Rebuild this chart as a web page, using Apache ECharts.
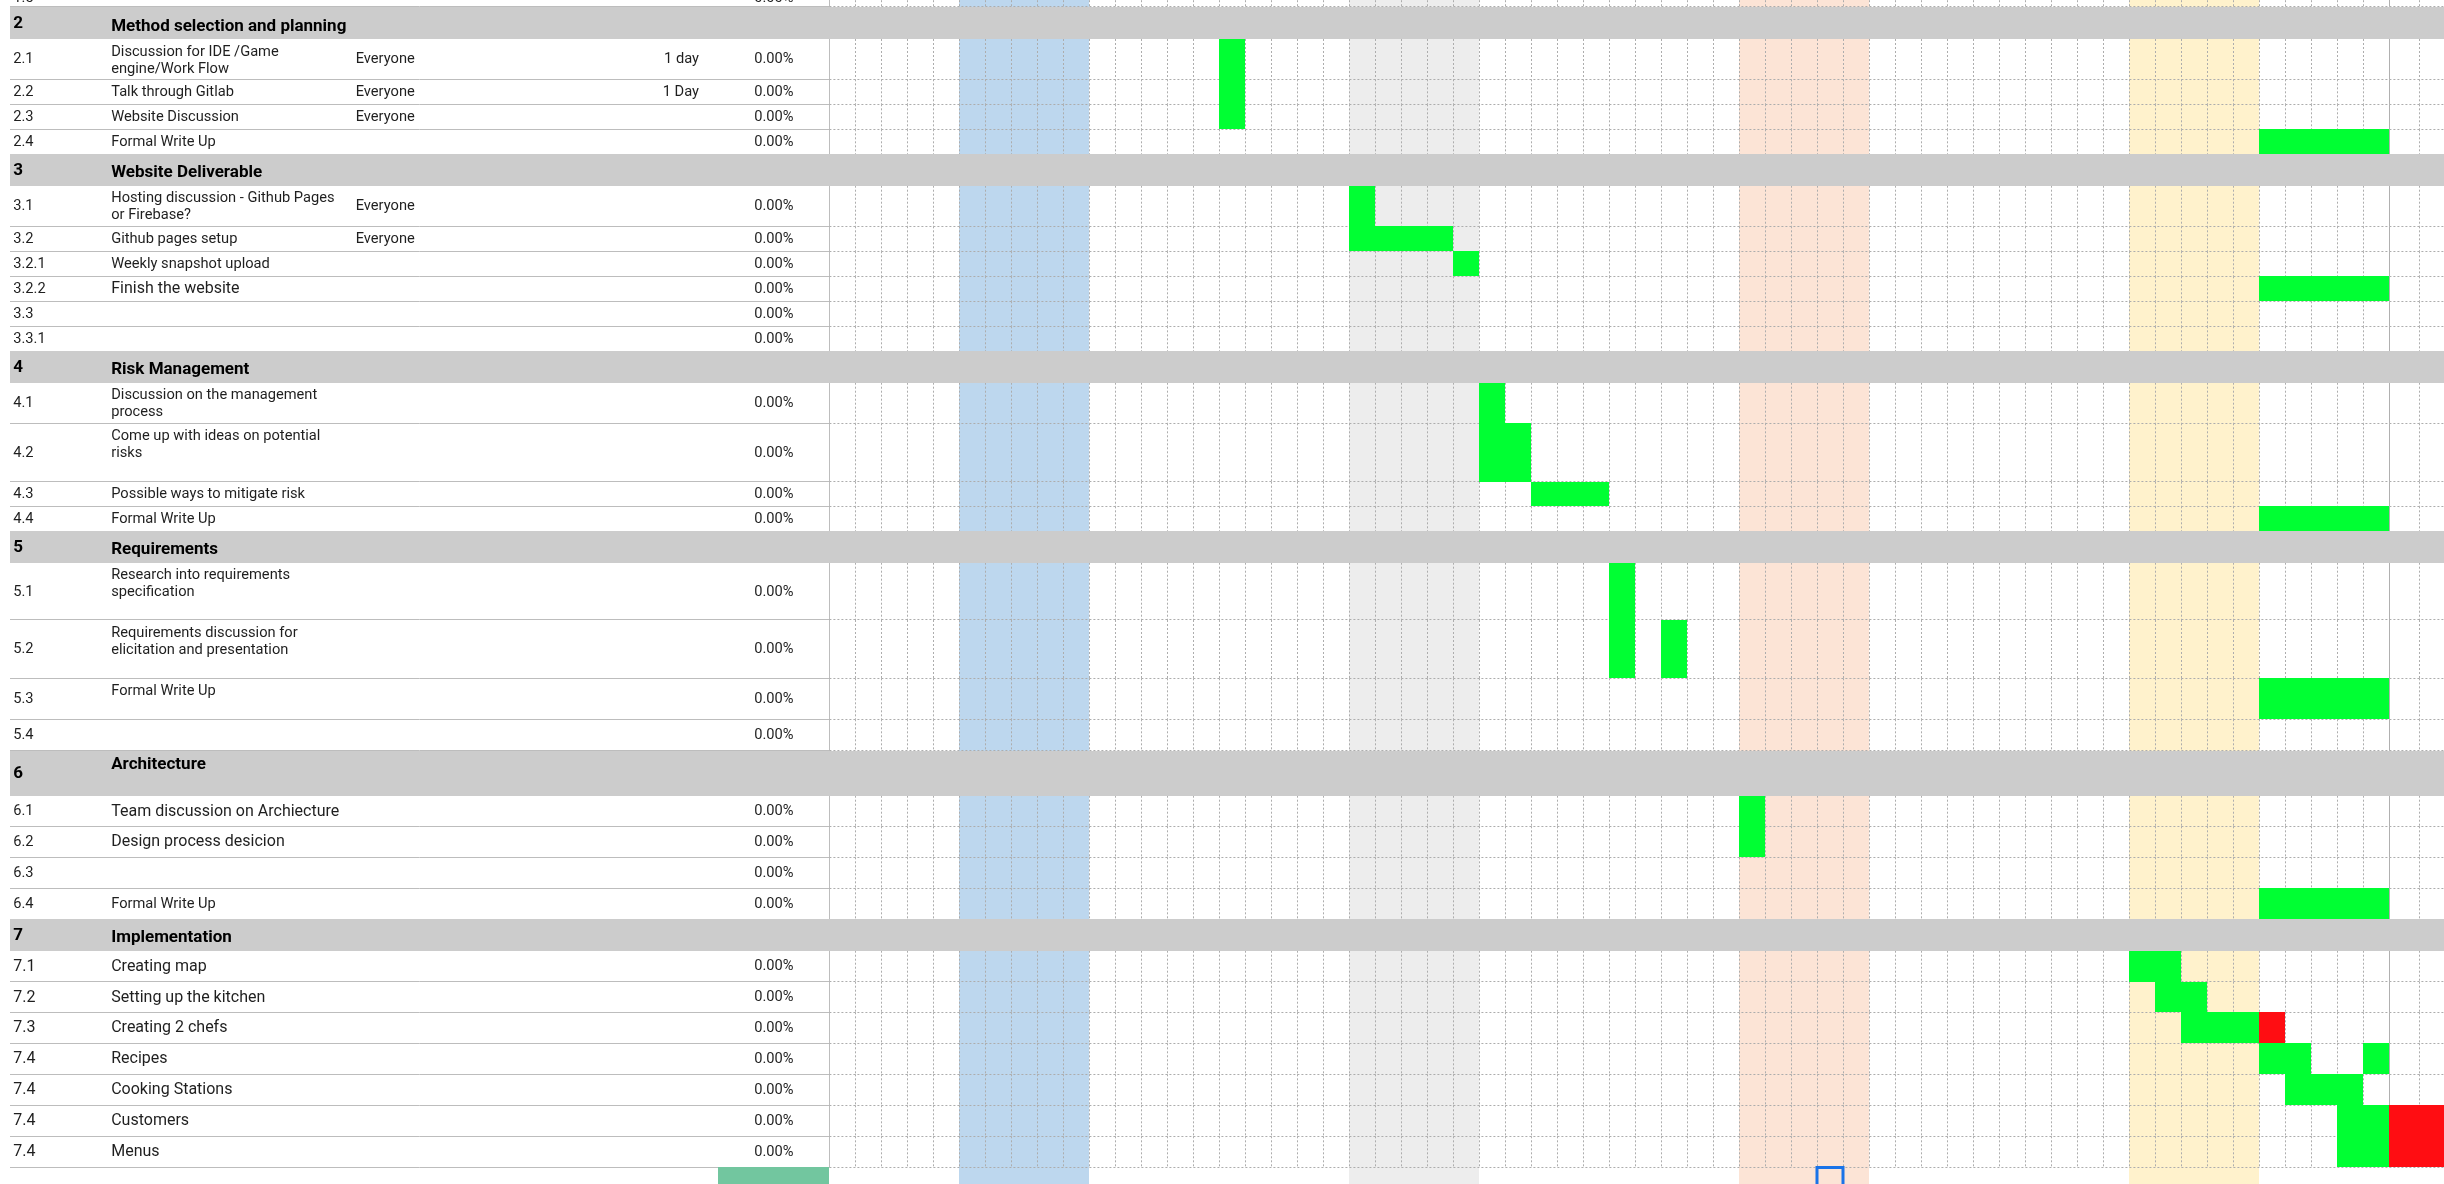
<!DOCTYPE html>
<html>
<head>
<meta charset="utf-8">
<script src="https://cdn.jsdelivr.net/npm/echarts@6/dist/echarts.min.js"></script>
<style>
html,body{margin:0;padding:0;background:#fff;overflow:hidden;}
#c{width:2444px;height:1184px;}
</style>
</head>
<body>
<div id="c"></div>
<script>
// ---------------- DATA ----------------
const taskIds = ['1.5','2','2.1','2.2','2.3','2.4','3','3.1','3.2','3.2.1','3.2.2','3.3','3.3.1',
  '4','4.1','4.2','4.3','4.4','5','5.1','5.2','5.3','5.4','6','6.1','6.2','6.3','6.4',
  '7','7.1','7.2','7.3','7.4','7.4','7.4','7.4',''];
const taskNames = ['', 'Method selection and planning', 'Discussion for IDE /Game\nengine/Work Flow',
  'Talk through Gitlab', 'Website Discussion', 'Formal Write Up', 'Website Deliverable',
  'Hosting discussion - Github Pages\nor Firebase?', 'Github pages setup', 'Weekly snapshot upload',
  'Finish the website', '', '', 'Risk Management', 'Discussion on the management\nprocess',
  'Come up with ideas on potential\nrisks', 'Possible ways to mitigate risk', 'Formal Write Up',
  'Requirements', 'Research into requirements\nspecification',
  'Requirements discussion for\nelicitation and presentation', 'Formal Write Up', '',
  'Architecture', 'Team discussion on Archiecture', 'Design process desicion', '', 'Formal Write Up',
  'Implementation', 'Creating map', 'Setting up the kitchen', 'Creating 2 chefs', 'Recipes',
  'Cooking Stations', 'Customers', 'Menus', ''];
const owners = ['', '', 'Everyone', 'Everyone', 'Everyone', '', '', 'Everyone', 'Everyone', '', '', '', '',
  '', '', '', '', '', '', '', '', '', '', '', '', '', '', '', '', '', '', '', '', '', '', '', ''];
const durations = ['', '', '1 day', '1 Day', '', '', '', '', '', '', '', '', '',
  '', '', '', '', '', '', '', '', '', '', '', '', '', '', '', '', '', '', '', '', '', '', '', ''];
const progress = ['0.00%', '', '0.00%', '0.00%', '0.00%', '0.00%', '', '0.00%', '0.00%', '0.00%', '0.00%', '0.00%', '0.00%',
  '', '0.00%', '0.00%', '0.00%', '0.00%', '', '0.00%', '0.00%', '0.00%', '0.00%', '', '0.00%', '0.00%', '0.00%', '0.00%',
  '', '0.00%', '0.00%', '0.00%', '0.00%', '0.00%', '0.00%', '0.00%', ''];
const rowKinds = ['task','header','task','task','task','task','header','task','task','task','task','task','task',
  'header','task','task','task','task','header','task','task','task','task','header','task','task','task','task',
  'header','task','task','task','task','task','task','task','extra'];
// scheduled cells: [rowIndex, startDay, days]
const doneCells = [[2,15,1],[3,15,1],[4,15,1],[5,55,5],
  [7,20,1],[8,20,4],[9,24,1],[10,55,5],
  [14,25,1],[15,25,2],[16,27,3],[17,55,5],
  [19,30,1],[20,30,1],[20,32,1],[21,55,5],
  [24,35,1],[25,35,1],[27,55,5],
  [29,50,2],[30,51,2],[31,52,3],[32,55,2],[32,59,1],[33,56,3],[34,58,2],[35,58,2]];
const lateCells = [[31,55,1],[34,60,3],[35,60,3]];
// highlighted weeks: start day, length
const bandStarts = [5, 20, 35, 50];
const bandLens = [5, 5, 5, 5];
const selectedCell = [36, 38]; // row, day of the active cell

// ---------------- LAYOUT / STYLE ----------------
const W = 2444, H = 1184;
const TABLE_W = 829.4, TABLE_LEFT = 10, DAY_W = 26, MAIN_DAYS = 60, WIDE_DAY_W = 30;
const G2_LEFT = TABLE_W + MAIN_DAYS * DAY_W;
const G2_MAX = MAIN_DAYS + (W - G2_LEFT) / WIDE_DAY_W;
const FIRST_ROW_TOP = -11.8;
const rowHeights = [18.5, 32.3, 40.3, 25, 25, 25, 31.4, 40.6, 25, 25, 25, 25, 25, 31.4, 40.6, 58.4, 24.6, 25,
  31.4, 57.3, 58.3, 41, 31.4, 45, 30.6, 31, 31, 31, 31.4, 31, 30.6, 31, 31, 31, 31, 31, 30];
const bandColors = ['#bdd7ee', '#ededed', '#fce4d6', '#fff2cc'];
const bigNameRows = [10, 24, 25, 29, 30, 31, 32, 33, 34, 35];
const bigIdRows = [29, 30, 31, 32, 33, 34, 35];
const topAlignedHeaders = [23];
const ID_X = 13.2, NAME_X = 111.2, OWNER_X = 355.7, DUR_RIGHT = 699, PCT_RIGHT = 793.5, FILL_CELL_X = 718.3;
const FAMILY = 'Roboto, "Liberation Sans", Arial, sans-serif';
const BASE_FONT = '14.67px ' + FAMILY;
const BIG_FONT = '16px ' + FAMILY;
const HEADER_FONT = 'bold 17px ' + FAMILY;
const LINE_H = 17;
const TEXT = '#1f1f1f';
const HEADER_FILL = '#cccccc';
const TABLE_LINE = '#bdbdbd';
const DOT_LINE = '#adadad';
const SOLID_LINE = '#b0b0b0';
const DONE = '#00ff33';
const LATE = '#ff0d12';
const FILLED_CELL = '#72c69f';
const SELECT = '#1a73e8';

const rowTops = [];
(function () { let acc = FIRST_ROW_TOP; rowHeights.forEach(function (h) { rowTops.push(acc); acc += h; }); })();

const crisp = v => Math.round(v - 0.5) + 0.5;
function hLine(x1, x2, y, stroke, dash) {
  const yy = crisp(y);
  return { type: 'line', shape: { x1: x1, y1: yy, x2: x2, y2: yy }, style: { stroke: stroke, lineWidth: 1, lineDash: dash || null } };
}
function vLine(x, y1, y2, stroke, dash) {
  const xx = crisp(x);
  return { type: 'line', shape: { x1: xx, y1: y1, x2: xx, y2: y2 }, style: { stroke: stroke, lineWidth: 1, lineDash: dash || null } };
}
function box(x1, y1, x2, y2, fill) {
  const a = Math.round(x1), b = Math.round(y1);
  return { type: 'rect', shape: { x: a, y: b, width: Math.round(x2) - a, height: Math.round(y2) - b }, style: { fill: fill } };
}
function txt(s, x, y, font, fill, align) {
  return { type: 'text', style: { text: s, x: x, y: y, font: font, fill: fill, align: align, verticalAlign: 'middle', lineHeight: LINE_H } };
}

const rowData = taskIds.map((_, i) => [i, 0]);

function renderTable(params, api) {
  const i = params.dataIndex, top = rowTops[i], h = rowHeights[i], bot = top + h;
  const X = v => api.coord([v, 0])[0];
  const Y = v => api.coord([0, v])[1];
  const kids = [];
  const kind = rowKinds[i];
  if (kind === 'header') {
    kids.push(box(X(TABLE_LEFT), Y(top), X(TABLE_W), Y(bot), HEADER_FILL));
    kids.push(txt(taskIds[i], X(ID_X), Y(top + h / 2 + 0.5), HEADER_FONT, '#000', 'left'));
    const ny = topAlignedHeaders.indexOf(i) >= 0 ? top + 13.6 : bot - 12.5;
    kids.push(txt(taskNames[i], X(NAME_X), Y(ny), HEADER_FONT, '#000', 'left'));
  } else if (kind === 'task') {
    kids.push(hLine(X(TABLE_LEFT), X(TABLE_W), Y(bot), TABLE_LINE));
    kids.push(vLine(X(TABLE_W), Y(top), Y(bot), TABLE_LINE));
    const mid = top + h / 2 + 0.5;
    const idFont = bigIdRows.indexOf(i) >= 0 ? BIG_FONT : BASE_FONT;
    kids.push(txt(taskIds[i], X(ID_X), Y(mid), idFont, TEXT, 'left'));
    if (taskNames[i]) {
      const nFont = bigNameRows.indexOf(i) >= 0 ? BIG_FONT : BASE_FONT;
      const n = taskNames[i].split('\n').length;
      const ny = h > 35 ? top + 12.9 + (n - 1) * LINE_H / 2 : mid;
      kids.push(txt(taskNames[i], X(NAME_X), Y(ny), nFont, TEXT, 'left'));
    }
    if (owners[i]) kids.push(txt(owners[i], X(OWNER_X), Y(mid), BASE_FONT, TEXT, 'left'));
    if (durations[i]) kids.push(txt(durations[i], X(DUR_RIGHT), Y(mid), BASE_FONT, TEXT, 'right'));
    if (progress[i]) kids.push(txt(progress[i], X(PCT_RIGHT), Y(mid), BASE_FONT, TEXT, 'right'));
  } else {
    kids.push(box(X(FILL_CELL_X), Y(top), X(TABLE_W), Y(bot), FILLED_CELL));
  }
  return { type: 'group', children: kids };
}

function ganttSeries(g, xmin, xmax) {
  const out = [];
  const base = { type: 'custom', xAxisIndex: g, yAxisIndex: g, silent: true, animation: false, clip: false };
  // week bands
  out.push(Object.assign({}, base, {
    z: 1, data: bandStarts.map((s, k) => [s, k]),
    renderItem: function (p, api) {
      const k = p.dataIndex;
      const a = Math.max(bandStarts[k], xmin), b = Math.min(bandStarts[k] + bandLens[k], xmax);
      if (a >= b) return { type: 'group', children: [] };
      const p0 = api.coord([a, -30]), p1 = api.coord([b, H + 30]);
      return box(p0[0], p0[1], p1[0], p1[1], bandColors[k]);
    }
  }));
  // grid lines
  out.push(Object.assign({}, base, {
    z: 2, data: rowData,
    renderItem: function (p, api) {
      const i = p.dataIndex;
      if (rowKinds[i] !== 'task') return { type: 'group', children: [] };
      const top = rowTops[i], bot = top + rowHeights[i];
      const y0 = api.coord([xmin, top])[1], y1 = api.coord([xmin, bot])[1];
      const kids = [];
      for (let c = Math.ceil(xmin); c < xmax; c++) {
        if (c === 0) continue;
        const x = api.coord([c, top])[0];
        if (c === MAIN_DAYS) kids.push(vLine(x, y0, y1, SOLID_LINE));
        else kids.push(vLine(x, y0, y1, DOT_LINE, [2, 2]));
      }
      kids.push(hLine(api.coord([xmin, bot])[0], api.coord([xmax, bot])[0], y1, DOT_LINE, [2, 2]));
      return { type: 'group', children: kids };
    }
  }));
  // section header bars
  out.push(Object.assign({}, base, {
    z: 3, data: rowData,
    renderItem: function (p, api) {
      const i = p.dataIndex;
      if (rowKinds[i] !== 'header') return { type: 'group', children: [] };
      const p0 = api.coord([xmin, rowTops[i]]), p1 = api.coord([xmax, rowTops[i] + rowHeights[i]]);
      return box(p0[0], p0[1], p1[0], p1[1], HEADER_FILL);
    }
  }));
  // scheduled cells
  const cells = doneCells.map(c => [c[1], c[0], c[2], 0]).concat(lateCells.map(c => [c[1], c[0], c[2], 1]));
  out.push(Object.assign({}, base, {
    z: 4, data: cells,
    renderItem: function (p, api) {
      const start = api.value(0), row = api.value(1), len = api.value(2), late = api.value(3);
      const a = Math.max(start, xmin), b = Math.min(start + len, xmax);
      if (a >= b) return { type: 'group', children: [] };
      const p0 = api.coord([a, rowTops[row]]), p1 = api.coord([b, rowTops[row] + rowHeights[row]]);
      return box(p0[0], p0[1], p1[0], p1[1], late ? LATE : DONE);
    }
  }));
  // active cell selection
  out.push(Object.assign({}, base, {
    z: 5, data: [[selectedCell[1], selectedCell[0]]],
    renderItem: function (p, api) {
      const d = api.value(0), row = api.value(1);
      if (d < xmin || d + 1 > xmax) return { type: 'group', children: [] };
      const p0 = api.coord([d, rowTops[row]]), p1 = api.coord([d + 1, rowTops[row] + rowHeights[row]]);
      const x = Math.round(p0[0]), y = Math.round(p0[1]) + 0.5;
      return { type: 'rect', shape: { x: x, y: y, width: Math.round(p1[0]) - x, height: p1[1] - y },
        style: { fill: null, stroke: SELECT, lineWidth: 3 } };
    }
  }));
  return out;
}

const chart = echarts.init(document.getElementById('c'), null, { renderer: 'canvas', width: W, height: H });
const option = {
  animation: false,
  backgroundColor: '#ffffff',
  grid: [
    { left: 0, top: 0, width: TABLE_W, height: H },
    { left: TABLE_W, top: 0, width: MAIN_DAYS * DAY_W, height: H },
    { left: G2_LEFT, top: 0, width: W - G2_LEFT, height: H }
  ],
  xAxis: [
    { gridIndex: 0, type: 'value', min: 0, max: TABLE_W, show: false },
    { gridIndex: 1, type: 'value', min: 0, max: MAIN_DAYS, show: false },
    { gridIndex: 2, type: 'value', min: MAIN_DAYS, max: G2_MAX, show: false }
  ],
  yAxis: [0, 1, 2].map(g => ({ gridIndex: g, type: 'value', min: 0, max: H, inverse: true, show: false })),
  series: [
    { type: 'custom', xAxisIndex: 0, yAxisIndex: 0, z: 2, silent: true, animation: false, clip: false,
      data: rowData, renderItem: renderTable }
  ].concat(ganttSeries(1, 0, MAIN_DAYS)).concat(ganttSeries(2, MAIN_DAYS, G2_MAX))
};
chart.setOption(option);
</script>
</body>
</html>
